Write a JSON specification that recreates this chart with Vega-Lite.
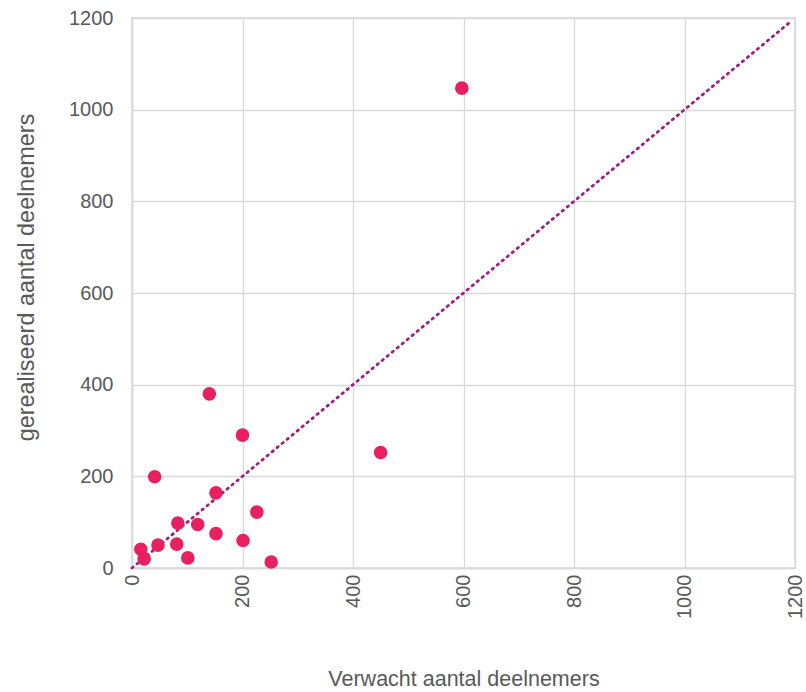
{
  "$schema": "https://vega.github.io/schema/vega-lite/v6.json",
  "width": 663,
  "height": 550,
  "autosize": {"type": "none"},
  "padding": {"left": 132, "top": 18, "right": 11, "bottom": 124},
  "background": "white",
  "config": {
    "font": "Liberation Sans",
    "view": {"stroke": "#d9d9d9", "strokeWidth": 1.5},
    "axis": {
      "gridColor": "#d9d9d9",
      "gridWidth": 1.3,
      "domainColor": "#d9d9d9",
      "domainWidth": 1.5,
      "ticks": false,
      "labelFont": "Liberation Sans",
      "labelFontSize": 20,
      "labelColor": "#595959",
      "titleFont": "Liberation Sans",
      "titleColor": "#595959",
      "titleFontWeight": "normal",
      "format": "d"
    }
  },
  "datasets": {
    "pts": [
      {"verwacht": 597, "gerealiseerd": 1047},
      {"verwacht": 450, "gerealiseerd": 252},
      {"verwacht": 140, "gerealiseerd": 380},
      {"verwacht": 200, "gerealiseerd": 290},
      {"verwacht": 41, "gerealiseerd": 199},
      {"verwacht": 152, "gerealiseerd": 164},
      {"verwacht": 226, "gerealiseerd": 122},
      {"verwacht": 83, "gerealiseerd": 98},
      {"verwacht": 119, "gerealiseerd": 95},
      {"verwacht": 152, "gerealiseerd": 75},
      {"verwacht": 16, "gerealiseerd": 41},
      {"verwacht": 47, "gerealiseerd": 50},
      {"verwacht": 81, "gerealiseerd": 52},
      {"verwacht": 22, "gerealiseerd": 20},
      {"verwacht": 101, "gerealiseerd": 22},
      {"verwacht": 201, "gerealiseerd": 60},
      {"verwacht": 252, "gerealiseerd": 13}
    ],
    "diag": [
      {"verwacht": 0, "gerealiseerd": 0},
      {"verwacht": 1192, "gerealiseerd": 1192}
    ]
  },
  "layer": [
    {
      "data": {"name": "diag"},
      "mark": {"type": "line", "color": "#a0207f", "strokeWidth": 2.8, "strokeDash": [1.5, 5], "strokeCap": "round"},
      "encoding": {
        "x": {"field": "verwacht", "type": "quantitative"},
        "y": {"field": "gerealiseerd", "type": "quantitative"}
      }
    },
    {
      "data": {"name": "pts"},
      "mark": {"type": "circle", "color": "#e8205f", "opacity": 1, "size": 185},
      "encoding": {
        "x": {
          "field": "verwacht", "type": "quantitative",
          "scale": {"domain": [0, 1200], "nice": false},
          "axis": {"values": [0, 200, 400, 600, 800, 1000, 1200], "format": "d", "labelAngle": -90, "labelPadding": 6, "title": "Verwacht aantal deelnemers", "titleFontSize": 21.5, "titlePadding": 50}
        },
        "y": {
          "field": "gerealiseerd", "type": "quantitative",
          "scale": {"domain": [0, 1200], "nice": false},
          "axis": {"values": [0, 200, 400, 600, 800, 1000, 1200], "format": "d", "labelPadding": 19, "title": "gerealiseerd aantal deelnemers", "titleFontSize": 23.4, "titlePadding": 30, "titleY": 259}
        }
      }
    }
  ]
}
